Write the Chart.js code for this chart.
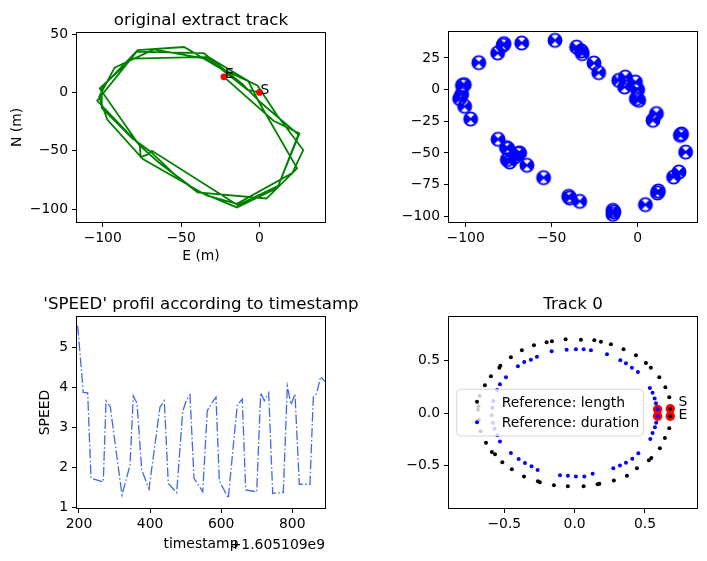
<!DOCTYPE html>
<html>
<head>
<meta charset="utf-8">
<script src="https://cdn.jsdelivr.net/npm/chart.js"></script>
<style>
  html, body { margin: 0; padding: 0; background: #fff; }
  #wrap { position: relative; width: 707px; height: 561px; }
  #wrap canvas { position: absolute; left: 0; top: 0; }
</style>
</head>
<body>
<div id="wrap">
  <canvas id="track" width="707" height="561"></canvas>
  <canvas id="points" width="707" height="561"></canvas>
  <canvas id="speed" width="707" height="561"></canvas>
  <canvas id="ref" width="707" height="561"></canvas>
</div>
<script>
// track vertices (metres east / north), in time order
const trackE = [0, -7.6, -32.2, -67.4, -92.4, -102.3, -97.1, -74.4, -33.7, -14.4,
  20.9, 27.9, 10.9, -1.3, -25.4, -48.1, -77.7, -100.8, -100.6, -81.2,
  -69.6, -54.7, -40.1, -14.4, 11.5, 24.8, 0.6, -11, -35.5, -78.3,
  -103.5, -75.4, -64.4, -39.5, 4.5, 24, -0.8, -7.2, -32.7, -81.4,
  -101.9, -76.3, -75.8, -71.5, -68.6, -13.8, 12, 25.5, 8.9, -22.7];
const trackN = [0, 2.1, 28.4, 36.8, 21.3, -3.7, -23.2, -57.1, -88.2, -95.3,
  -69, -49.3, -18.9, 6, 21, 38.9, 36.3, 3.9, -13.2, -39.2,
  -50.5, -69.5, -84.2, -98.4, -81.6, -36.1, -8.4, 7.3, 33.6, 35,
  -7.1, -46.6, -59.7, -85.6, -90.8, -65, -7.1, 9.9, 30.5, 28.9,
  3.4, -45.8, -55.3, -53.2, -50, -96.5, -80, -35, -24.2, 13.4];
const markLabels = ['S', 'E'];

// speed profile
const timestampBase = '+1.605109e9';
const timestampOffset = [196.3, 212.1, 224.5, 233.8, 268.4, 276, 288, 321, 343.5, 352.7,
  363.2, 376.4, 396.9, 427.8, 440, 451.2, 474.8, 491.7, 503, 512.2,
  523.5, 548, 560.9, 573.3, 585.4, 594.7, 620, 636.9, 645.3, 659.4,
  668.9, 699.9, 711.1, 721.3, 733.6, 744.9, 774.7, 786, 796.3, 807.6,
  819.7, 849.8, 859.1, 868.7, 879.9, 892];
const speed = [5.54, 3.87, 3.86, 1.72, 1.63, 3.66, 3.51, 1.30, 2.05, 3.78,
  3.6, 1.93, 1.45, 3.5, 3.66, 1.59, 1.36, 3.39, 3.70, 3.81,
  1.72, 1.38, 3.41, 3.60, 3.75, 1.66, 1.22, 2.80, 3.56, 3.70,
  1.43, 1.38, 3.86, 3.66, 3.86, 1.34, 1.36, 4.03, 3.56, 3.83,
  1.57, 1.57, 3.75, 3.85, 4.27, 4.14];

// Track 0 : normalised positions
const lengthX = [0.045, 0.140, 0.187, 0.258, 0.348, 0.436, 0.507, 0.542, 0.602, 0.645,
  0.673, 0.680, 0.680, 0.673, 0.642, 0.606, 0.545, 0.528, 0.443, 0.372,
  0.279, 0.176, 0.163, 0.064, -0.064, -0.161, -0.199, -0.289, -0.375, -0.453,
  -0.528, -0.535, -0.595, -0.638, -0.675, -0.684, -0.687, -0.682, -0.668, -0.630,
  -0.588, -0.566, -0.514, -0.446, -0.360, -0.261, -0.247, -0.147, -0.048];
const lengthY = [0.695, 0.690, 0.676, 0.652, 0.604, 0.547, 0.474, 0.430, 0.339, 0.244,
  0.149, 0.040, -0.030, -0.145, -0.237, -0.335, -0.427, -0.449, -0.525, -0.595,
  -0.639, -0.671, -0.676, -0.695, 0.699, 0.680, 0.671, 0.642, 0.595, 0.528,
  0.449, 0.430, 0.348, 0.263, 0.161, 0.064, 0.031, -0.066, -0.174, -0.282,
  -0.370, -0.392, -0.468, -0.534, -0.601, -0.648, -0.657, -0.686, -0.695];
const durationX = [0.009, 0.064, 0.116, 0.230, 0.325, 0.365, 0.407, 0.450, 0.535, 0.554,
  0.569, 0.578, 0.590, 0.590, 0.580, 0.571, 0.554, 0.538, 0.453, 0.410,
  0.365, 0.322, 0.275, 0.128, 0.069, 0.009, -0.048, -0.104, -0.057, -0.163,
  -0.268, -0.311, -0.358, -0.403, -0.488, -0.531, -0.551, -0.578, -0.585, -0.590,
  -0.581, -0.569, -0.549, -0.531, -0.453, -0.398, -0.353, -0.306, -0.263];
const durationY = [0.604, 0.604, 0.595, 0.557, 0.500, 0.472, 0.430, 0.389, 0.237, 0.193,
  0.139, 0.092, 0.035, -0.030, -0.092, -0.136, -0.190, -0.247, -0.382, -0.434,
  -0.472, -0.497, -0.525, -0.576, -0.601, -0.601, -0.595, -0.591, 0.601, 0.585,
  0.534, 0.506, 0.484, 0.443, 0.339, 0.272, 0.218, 0.114, 0.050, -0.022,
  -0.095, -0.149, -0.212, -0.269, -0.380, -0.436, -0.474, -0.506, -0.541];
const refStartEndX = [0.59, 0.59, 0.68, 0.68];
const refStartEndY = [0.035, -0.03, 0.04, -0.03];
const legendLabels = ['Reference: length', 'Reference: duration'];

// tick values
const trackTicksX = [-100, -50, 0];
const trackTicksY = [-100, -50, 0, 50];
const pointTicksX = [-100, -50, 0];
const pointTicksY = [-100, -75, -50, -25, 0, 25];
const speedTicksX = [200, 400, 600, 800];
const speedTicksY = [1, 2, 3, 4, 5];
const refTicks = [-0.5, 0, 0.5];

const W = 707, H = 561;
const FONT = "'DejaVu Sans', sans-serif";
const TICK_SIZE = 13.9;
const TITLE_SIZE = 16.67;
Chart.defaults.font.family = FONT;
Chart.defaults.color = '#000';

const pts = (xs, ys) => xs.map((x, i) => ({x: x, y: ys[i]}));
const fmt = d => v => (v < 0 ? '\u2212' : '') + Math.abs(v).toFixed(d);

function axis(pos, area, min, max, ticks, digits, label, titlePad) {
  return {
    type: 'linear', position: pos, min: min, max: max,
    afterBuildTicks: s => { s.ticks = ticks.map(v => ({value: v})); },
    afterFit: s => { if (pos === 'left') s.width = area.left; else s.height = H - area.bottom; },
    grid: {display: true, drawOnChartArea: false, drawTicks: true, tickLength: 5, color: '#000', lineWidth: 1},
    border: {display: false},
    ticks: {autoSkip: false, maxRotation: 0, padding: pos === 'left' ? 4 : 3, color: '#000',
            font: {family: FONT, size: TICK_SIZE}, callback: fmt(digits)},
    title: {display: !!label, text: label || '', color: '#000',
            font: {family: FONT, size: TICK_SIZE}, padding: titlePad || 0}
  };
}

function options(area, x, y) {
  return {
    responsive: false, animation: false, devicePixelRatio: 1,
    layout: {padding: {left: 0, top: area.top, right: W - area.right, bottom: 0}},
    plugins: {legend: {display: false}, tooltip: {enabled: false}},
    scales: {x: x, y: y}
  };
}

const frame = {
  id: 'frame',
  afterDatasetsDraw(chart) {
    const {ctx, chartArea: a} = chart;
    ctx.save();
    ctx.strokeStyle = '#000';
    ctx.lineWidth = 1;
    ctx.strokeRect(Math.round(a.left) - 0.5, Math.round(a.top) - 0.5,
                   Math.round(a.right - a.left) + 1, Math.round(a.bottom - a.top) + 1);
    ctx.restore();
  }
};

function heading(text) {
  return {
    id: 'heading',
    afterDraw(chart) {
      const {ctx, chartArea: a} = chart;
      ctx.save();
      ctx.font = TITLE_SIZE + 'px ' + FONT;
      ctx.fillStyle = '#000';
      ctx.textAlign = 'center';
      ctx.textBaseline = 'alphabetic';
      ctx.fillText(text, (a.left + a.right) / 2, a.top - 8.3);
      ctx.restore();
    }
  };
}

// ---- top left: original track
const trackArea = {left: 77, top: 33, right: 325, bottom: 222};
const last = trackE.length - 1;
const startEnd = [{x: trackE[0], y: trackN[0]}, {x: trackE[last], y: trackN[last]}];
new Chart(document.getElementById('track'), {
  type: 'scatter',
  data: {datasets: [
    {data: startEnd, pointRadius: 3.4, backgroundColor: 'red', borderWidth: 0, order: 0},
    {data: pts(trackE, trackN), showLine: true, borderColor: 'green', borderWidth: 1.8,
     pointRadius: 0, order: 1}
  ]},
  options: options(trackArea,
    axis('bottom', trackArea, -116.4, 41.8, trackTicksX, 0, 'E (m)', {top: 0, bottom: 296}),
    axis('left', trackArea, -110.9, 50.9, trackTicksY, 0, 'N (m)', {top: 8.7, bottom: 0})),
  plugins: [frame, heading('original extract track'), {
    id: 'seText',
    afterDatasetsDraw(chart) {
      const {ctx, scales} = chart;
      ctx.save();
      ctx.font = TICK_SIZE + 'px ' + FONT;
      ctx.fillStyle = '#000';
      ctx.textBaseline = 'alphabetic';
      startEnd.forEach((p, i) => {
        ctx.fillText(markLabels[i], scales.x.getPixelForValue(p.x) + 1, scales.y.getPixelForValue(p.y) + 1.5);
      });
      ctx.restore();
    }
  }]
});

// ---- top right: vertices as markers
function circledCross() {
  const c = document.createElement('canvas');
  c.width = 18; c.height = 18;
  const g = c.getContext('2d');
  const m = 9, r = 6.6, d = 4.7;
  g.fillStyle = 'blue';
  g.beginPath(); g.moveTo(m, m); g.arc(m, m, r, 3 * Math.PI / 4, 5 * Math.PI / 4); g.closePath(); g.fill();
  g.beginPath(); g.moveTo(m, m); g.arc(m, m, r, -Math.PI / 4, Math.PI / 4); g.closePath(); g.fill();
  g.strokeStyle = 'blue';
  g.lineWidth = 1.8;
  g.beginPath(); g.arc(m, m, r, 0, 2 * Math.PI); g.stroke();
  g.lineWidth = 1.5;
  g.beginPath(); g.moveTo(m - d, m - d); g.lineTo(m + d, m + d);
  g.moveTo(m + d, m - d); g.lineTo(m - d, m + d); g.stroke();
  return c;
}
const pointArea = {left: 449, top: 32, right: 697, bottom: 222};
new Chart(document.getElementById('points'), {
  type: 'scatter',
  data: {datasets: [
    {data: pts(trackE, trackN), pointStyle: circledCross(), pointRadius: 7}
  ]},
  options: options(pointArea,
    axis('bottom', pointArea, -109.7, 34.5, pointTicksX, 0),
    axis('left', pointArea, -104.5, 45.5, pointTicksY, 0)),
  plugins: [frame]
});

// ---- bottom left: speed profile
const speedArea = {left: 77, top: 317, right: 325, bottom: 508};
new Chart(document.getElementById('speed'), {
  type: 'scatter',
  data: {datasets: [
    {data: pts(timestampOffset, speed), showLine: true, borderColor: '#4169E1', borderWidth: 1.3,
     borderDash: [9.6, 2.4, 1.5, 2.4], pointRadius: 0}
  ]},
  options: options(speedArea,
    axis('bottom', speedArea, 194.4, 892, speedTicksX, 0, 'timestamp', {top: 0, bottom: 8.2}),
    axis('left', speedArea, 0.975, 5.76, speedTicksY, 0, 'SPEED', {top: 37.4, bottom: 0})),
  plugins: [frame, heading("'SPEED' profil according to timestamp"), {
    id: 'offsetText',
    afterDraw(chart) {
      const {ctx, chartArea: a} = chart;
      ctx.save();
      ctx.font = TICK_SIZE + 'px ' + FONT;
      ctx.fillStyle = '#000';
      ctx.textAlign = 'right';
      ctx.textBaseline = 'alphabetic';
      ctx.fillText(timestampBase, a.right, a.bottom + 41);
      ctx.restore();
    }
  }]
});

// ---- bottom right: Track 0
const refArea = {left: 449, top: 317, right: 697, bottom: 508};
new Chart(document.getElementById('ref'), {
  type: 'scatter',
  data: {datasets: [
    {data: pts(refStartEndX, refStartEndY), pointRadius: 4.7, backgroundColor: 'red', borderWidth: 0, order: 2},
    {data: pts(lengthX, lengthY), pointRadius: 2, backgroundColor: 'black', borderWidth: 0, order: 1},
    {data: pts(durationX, durationY), pointRadius: 2, backgroundColor: 'blue', borderWidth: 0, order: 0}
  ]},
  options: options(refArea,
    axis('bottom', refArea, -0.893, 0.870, refTicks, 1),
    axis('left', refArea, -0.901, 0.911, refTicks, 1)),
  plugins: [frame, heading('Track 0'), {
    id: 'refDecor',
    afterDatasetsDraw(chart) {
      const {ctx, chartArea: a, scales} = chart;
      ctx.save();
      ctx.font = TICK_SIZE + 'px ' + FONT;
      ctx.fillStyle = '#000';
      ctx.textBaseline = 'alphabetic';
      const sx = scales.x.getPixelForValue(refStartEndX[2]);
      ctx.fillText(markLabels[0], sx + 8.3, scales.y.getPixelForValue(refStartEndY[2]) - 2.8);
      ctx.fillText(markLabels[1], sx + 8.3, scales.y.getPixelForValue(refStartEndY[3]) + 3.1);

      // legend box
      const bx = a.left + 7.7, by = a.top + 72.3, bw = 186.6, bh = 46.7, r = 4;
      ctx.beginPath();
      ctx.moveTo(bx + r, by);
      ctx.arcTo(bx + bw, by, bx + bw, by + bh, r);
      ctx.arcTo(bx + bw, by + bh, bx, by + bh, r);
      ctx.arcTo(bx, by + bh, bx, by, r);
      ctx.arcTo(bx, by, bx + bw, by, r);
      ctx.closePath();
      ctx.fillStyle = 'rgba(255,255,255,0.8)';
      ctx.fill();
      ctx.strokeStyle = 'rgba(204,204,204,0.8)';
      ctx.lineWidth = 1;
      ctx.stroke();
      const colors = ['black', 'blue'];
      legendLabels.forEach((t, i) => {
        const cy = by + 12.4 + i * 20.6;
        ctx.fillStyle = colors[i];
        ctx.beginPath(); ctx.arc(bx + 20.3, cy, 2, 0, 2 * Math.PI); ctx.fill();
        ctx.fillStyle = '#000';
        ctx.fillText(t, bx + 45, cy + 5);
      });
      ctx.restore();
    }
  }]
});
</script>
</body>
</html>
